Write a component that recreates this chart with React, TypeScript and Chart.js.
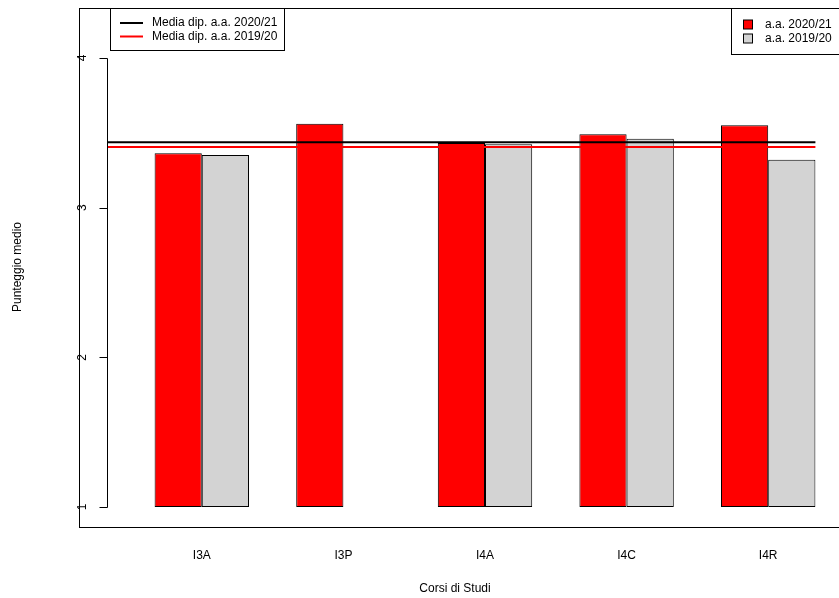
import React, { useEffect, useRef } from "react";
import { Chart, registerables } from "chart.js";

Chart.register(...registerables);

const categories = ["I3A", "I3P", "I4A", "I4C", "I4R"];
const series2021 = [3.363, 3.561, 3.432, 3.49, 3.55];
const series1920: (number | null)[] = [3.352, null, 3.423, 3.461, 3.32];
const mean2021 = 3.437;
const mean1920 = 3.405;
const yTicks = [1, 2, 3, 4];
const seriesLabels = ["a.a. 2020/21", "a.a. 2019/20"];
const meanLabels = ["Media dip. a.a. 2020/21", "Media dip. a.a. 2019/20"];
const yTitle = "Punteggio medio";
const xTitle = "Corsi di Studi";

const FONT = '"Liberation Sans", Arial, sans-serif';

const decorPlugin = {
  id: "rDecor",
  afterDatasetsDraw(chart: any) {
    const ctx = chart.ctx as CanvasRenderingContext2D;
    const x = chart.scales.x;
    const y = chart.scales.y;
    const ca = chart.chartArea;
    const catW = (ca.right - ca.left) / categories.length;
    const barW = catW / 3;
    const axisX = Math.round(x.getPixelForValue(0) - 2 * barW) + 0.5;
    const lineLeft = x.getPixelForValue(0) - 2 * barW;
    const lineRight = x.getPixelForValue(categories.length - 1) + barW;

    ctx.save();
    // mean lines
    ctx.lineWidth = 2;
    ctx.strokeStyle = "#000000";
    ctx.beginPath();
    ctx.moveTo(lineLeft, y.getPixelForValue(mean2021));
    ctx.lineTo(lineRight, y.getPixelForValue(mean2021));
    ctx.stroke();
    ctx.strokeStyle = "#FF0000";
    ctx.beginPath();
    ctx.moveTo(lineLeft, y.getPixelForValue(mean1920));
    ctx.lineTo(lineRight, y.getPixelForValue(mean1920));
    ctx.stroke();

    // outer box
    ctx.lineWidth = 1;
    ctx.strokeStyle = "#000000";
    ctx.strokeRect(79.5, 8.5, 800, 519);

    // y axis
    ctx.beginPath();
    ctx.moveTo(axisX, Math.round(y.getPixelForValue(yTicks[0])) + 0.5);
    ctx.lineTo(axisX, Math.round(y.getPixelForValue(yTicks[yTicks.length - 1])) + 0.5);
    for (const t of yTicks) {
      const py = Math.round(y.getPixelForValue(t)) + 0.5;
      ctx.moveTo(axisX, py);
      ctx.lineTo(axisX - 8, py);
    }
    ctx.stroke();
    ctx.fillStyle = "#000000";
    ctx.font = `12px ${FONT}`;
    ctx.textAlign = "center";
    ctx.textBaseline = "middle";
    for (const t of yTicks) {
      const py = y.getPixelForValue(t);
      ctx.save();
      ctx.translate(83, py);
      ctx.rotate(-Math.PI / 2);
      ctx.fillText(String(t), 0, 0);
      ctx.restore();
    }

    // x tick labels
    ctx.font = `12px ${FONT}`;
    categories.forEach((c, i) => {
      ctx.fillText(c, x.getPixelForValue(i), 556);
    });

    // axis titles
    ctx.font = `12px ${FONT}`;
    ctx.fillText(xTitle, 455, 589);
    ctx.save();
    ctx.translate(18, 267);
    ctx.rotate(-Math.PI / 2);
    ctx.fillText(yTitle, 0, 0);
    ctx.restore();

    // left legend (mean lines)
    ctx.fillStyle = "#FFFFFF";
    ctx.fillRect(110.5, 8.5, 174, 42);
    ctx.strokeStyle = "#000000";
    ctx.lineWidth = 1;
    ctx.strokeRect(110.5, 8.5, 174, 42);
    const lineColors = ["#000000", "#FF0000"];
    const rowsL = [23, 36.5];
    ctx.lineWidth = 2;
    rowsL.forEach((ry, i) => {
      ctx.strokeStyle = lineColors[i];
      ctx.beginPath();
      ctx.moveTo(120, ry);
      ctx.lineTo(143, ry);
      ctx.stroke();
    });
    ctx.fillStyle = "#000000";
    ctx.textAlign = "left";
    rowsL.forEach((ry, i) => {
      ctx.fillText(meanLabels[i], 152, ry);
    });

    // right legend (bars)
    ctx.fillStyle = "#FFFFFF";
    ctx.fillRect(731.5, 8.5, 120, 46);
    ctx.lineWidth = 1;
    ctx.strokeStyle = "#000000";
    ctx.strokeRect(731.5, 8.5, 120, 46);
    const boxColors = ["#FF0000", "#D3D3D3"];
    const rowsR = [24.5, 38.5];
    rowsR.forEach((ry, i) => {
      ctx.fillStyle = boxColors[i];
      ctx.fillRect(743.5, ry - 4.5, 9, 9);
      ctx.strokeStyle = "#000000";
      ctx.strokeRect(743.5, ry - 4.5, 9, 9);
      ctx.fillStyle = "#000000";
      ctx.fillText(seriesLabels[i], 765, ry);
    });
    ctx.restore();
  },
};

export default function App() {
  const ref = useRef<HTMLCanvasElement | null>(null);
  useEffect(() => {
    document.body.style.margin = "0";
    if (!ref.current) return;
    const chart = new Chart(ref.current, {
      type: "bar",
      data: {
        labels: categories,
        datasets: [
          {
            label: seriesLabels[0],
            data: series2021,
            backgroundColor: "#FF0000",
            borderColor: "#000000",
            borderWidth: 1,
            borderSkipped: false,
            base: 1,
          } as any,
          {
            label: seriesLabels[1],
            data: series1920,
            backgroundColor: "#D3D3D3",
            borderColor: "#000000",
            borderWidth: 1,
            borderSkipped: false,
            base: 1,
          } as any,
        ],
      },
      options: {
        animation: false,
        responsive: false,
        maintainAspectRatio: false,
        layout: { padding: { left: 131, right: 0, top: 8, bottom: 71 } },
        datasets: { bar: { categoryPercentage: 2 / 3, barPercentage: 1 } },
        scales: {
          x: { display: false, offset: true },
          y: { display: false, min: 0.8663, max: 4.3337 },
        },
        plugins: {
          legend: { display: false },
          tooltip: { enabled: false },
        },
      },
      plugins: [decorPlugin],
    });
    return () => chart.destroy();
  }, []);
  return (
    <div style={{ position: "absolute", left: 0, top: 0, width: 839, height: 598, background: "#fff" }}>
      <canvas ref={ref} width={839} height={598} style={{ display: "block", width: 839, height: 598 }} />
    </div>
  );
}
